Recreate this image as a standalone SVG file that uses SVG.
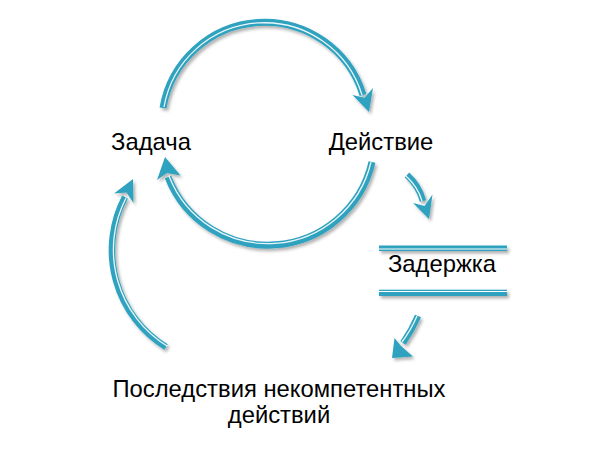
<svg xmlns="http://www.w3.org/2000/svg" width="605" height="455" viewBox="0 0 605 455">
  <defs>
    <filter id="sh" x="-20%" y="-20%" width="140%" height="140%">
      <feDropShadow dx="2" dy="2.5" stdDeviation="1.5" flood-color="#000" flood-opacity="0.3"/>
    </filter>
  </defs>
  <style>
    .lbl { font-family: "Liberation Sans", Arial, sans-serif; font-size: 23.8px; fill: #000; text-anchor: middle; }
    .shaft { fill: none; stroke: #2ea2bf; stroke-width: 7; }
    .thin { fill: none; stroke: #2ea2bf; stroke-width: 6.5; }
    .hl { fill: none; stroke: #ffffff; stroke-width: 1.3; stroke-opacity: 0.9; }
    .head { fill: #2ea2bf; }
    .bar { fill: #2ea2bf; }
  </style>
  <rect width="605" height="455" fill="#ffffff"/>

  <g id="connectors" filter="url(#sh)">
    <!-- Задача -> Действие (top arc) -->
    <g id="arc-top">
      <path class="shaft" d="M 163,108 A 103 103 0 0 1 363,95"/>
      <path class="hl" d="M 164,107 A 102 102 0 0 1 362,95"/>
      <polygon class="head" points="369,112 352.5,95 364.5,97.7 373,88"/>
    </g>
    <!-- Действие -> Задача (bottom arc) -->
    <g id="arc-bottom">
      <path class="shaft" d="M 372,162 A 107 107 0 0 1 168,177"/>
      <path class="hl" d="M 371,162 A 106 106 0 0 1 169,176"/>
      <polygon class="head" points="165,157 157,180 167,173 180.5,175.5"/>
    </g>
    <!-- Последствия -> Задача (left arc) -->
    <g id="arc-left">
      <path class="thin" d="M 166,347 A 114 114 0 0 1 125,197"/>
      <path class="hl" d="M 167,346 A 113 113 0 0 1 126,198"/>
      <polygon class="head" points="133,179 114,193.5 126.6,192.5 133.5,203"/>
    </g>
    <!-- Действие -> Задержка -->
    <g id="arr-delay-in">
      <path class="thin" d="M 407,175 Q 419,186 423,201"/>
      <path class="hl" d="M 406,176 Q 418,187 422,201"/>
      <polygon class="head" points="429,219 413,203 424.5,206 432.5,194.5"/>
    </g>
    <!-- Задержка -> Последствия -->
    <g id="arr-delay-out">
      <path class="thin" d="M 418,316 Q 412,330 403,343"/>
      <path class="hl" d="M 417,316 Q 411,330 402,342"/>
      <polygon class="head" points="392,358 394.5,338 401,346 413,356.5"/>
    </g>
  </g>

  <g id="node-task">
    <text class="lbl" x="151" y="150">Задача</text>
  </g>

  <g id="node-action">
    <text class="lbl" x="381" y="150">Действие</text>
  </g>

  <g id="node-delay">
    <g filter="url(#sh)">
      <rect class="bar" x="379" y="245.5" width="128" height="5.5"/>
      <rect x="379" y="248.5" width="128" height="1" fill="#ffffff"/>
      <rect class="bar" x="379" y="289.7" width="128" height="6.3"/>
      <rect x="379" y="291" width="128" height="1" fill="#ffffff"/>
    </g>
    <text class="lbl" x="442" y="272">Задержка</text>
  </g>

  <g id="node-consequences">
    <text class="lbl" x="279" y="397">Последствия некомпетентных</text>
    <text class="lbl" x="279" y="423">действий</text>
  </g>
</svg>
